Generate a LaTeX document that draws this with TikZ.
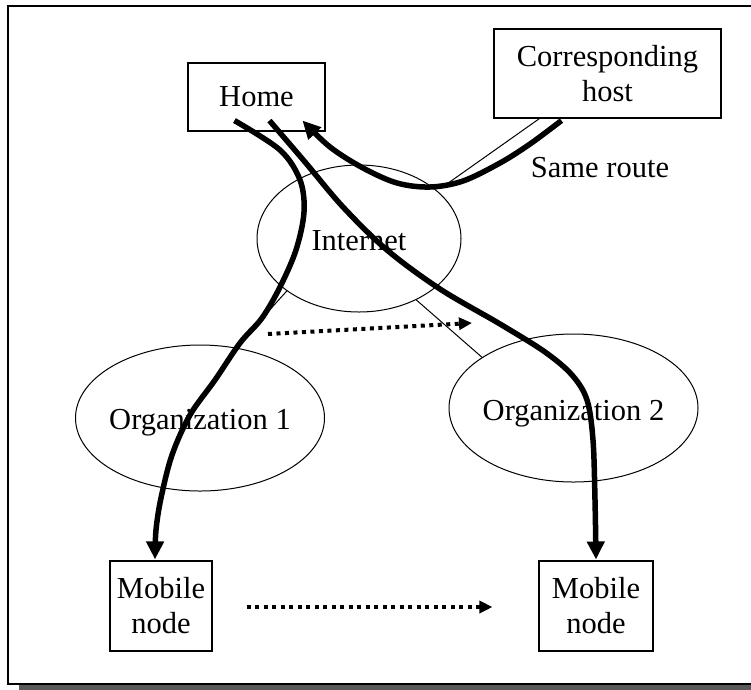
\documentclass[tikz,border=0pt]{standalone}
\usepackage{fontspec}
\setmainfont{Liberation Serif}
\usetikzlibrary{arrows.meta,shapes.geometric,calc}
\begin{document}
\begin{tikzpicture}[x=1pt,y=-1pt,
  txt/.style={font=\fontsize{30.5}{35}\selectfont},
  box/.style={draw,line width=1.1pt,rectangle,inner sep=0pt,txt,align=center},
  net/.style={draw,line width=1pt,ellipse,inner sep=0pt},
  link/.style={line width=1pt},
  route/.style={line width=5.5pt,line cap=butt,line join=round},
  routearrow/.style={route,-{Triangle[length=18pt,width=17pt]}},
  move/.style={line width=4pt,dash pattern=on 4pt off 4.5pt,-{Triangle[length=13pt,width=12pt]}}]
\useasboundingbox (0,0) rectangle (751,689);
\fill[white] (0,0) rectangle (751,689);
% frame with shadow
\fill[black!65] (19,684) rectangle (770,690);
\draw[line width=1.6pt,fill=white] (8,6) rectangle (770,684);
% nodes
\node[box,minimum width=137pt,minimum height=68pt] (home) at (256.5,97) {Home};
\node[box,minimum width=227pt,minimum height=89pt] (corr) at (607.5,73.5) {Corresponding\\host};
\node[box,minimum width=102pt,minimum height=90pt] (mob1) at (161,606) {Mobile\\node};
\node[box,minimum width=114pt,minimum height=90pt] (mob2) at (596,606) {Mobile\\node};
\node[net,minimum width=204pt,minimum height=147pt] (inet) at (359,238.5) {};
\node[net,minimum width=249pt,minimum height=146pt] (org1) at (200,418) {};
\node[net,minimum width=249pt,minimum height=148pt] (org2) at (573.5,408) {};
\node[txt,anchor=base,inner sep=0pt] (inettxt) at ($(inet.center)+(0,11.5)$) {Internet};
\node[txt,anchor=base,inner sep=0pt] (org1txt) at ($(org1.center)+(0,11)$) {Organization 1};
\node[txt,anchor=base,inner sep=0pt] (org2txt) at ($(org2.center)+(0,12)$) {Organization 2};
\node[txt,anchor=base] (same) at (600,177) {Same route};
% thin links
\draw[link] (inet.216) -- (org1.63);
\draw[link] (inet.313) -- (org2.151);
\coordinate (cl) at (444,186);
\draw[link] ($(corr.south west)+(46,0)$) -- (cl);
% route endpoints
\coordinate (h1) at ($(home.south west)+(47,-11)$);
\coordinate (h2) at ($(home.south west)+(82,-11)$);
\coordinate (h3) at ($(home.south west)+(115,-11)$);
\coordinate (c1) at ($(corr.south west)+(68,2)$);
\coordinate (m1) at ($(mob1.north)+(-6,-1)$);
\coordinate (m2) at ($(mob2.north)+(0,-1)$);
% thick routes
\draw[routearrow] plot[smooth,tension=0.55] coordinates {(h1) (280,150) (300,180) (304,212) (296,250) (280,287) (262,318) (240,343) (215,380) (190,415) (172,455) (161,498) (156,530) (m1)};
\draw[routearrow] plot[smooth,tension=0.55] coordinates {(h2) (305,162) (343,207) (387,250) (440,289) (500,324) (545,352) (572,375) (587,400) (593,440) (595,500) (m2)};
\draw[routearrow] plot[smooth,tension=0.55] coordinates {(c1) (530,144) (500,163) (463,181) (430,187) (397,183) (363,168) (330,147) (h3)};
% dotted moves
\coordinate (d1s) at (268,334);
\coordinate (d1e) at (472,323);
\draw[move] (d1s) -- (d1e);
\coordinate (d2s) at ($(mob1.east)+(34,1)$);
\coordinate (d2e) at ($(mob2.west)+(-46,1)$);
\draw[move] (d2s) -- (d2e);
\end{tikzpicture}
\end{document}
